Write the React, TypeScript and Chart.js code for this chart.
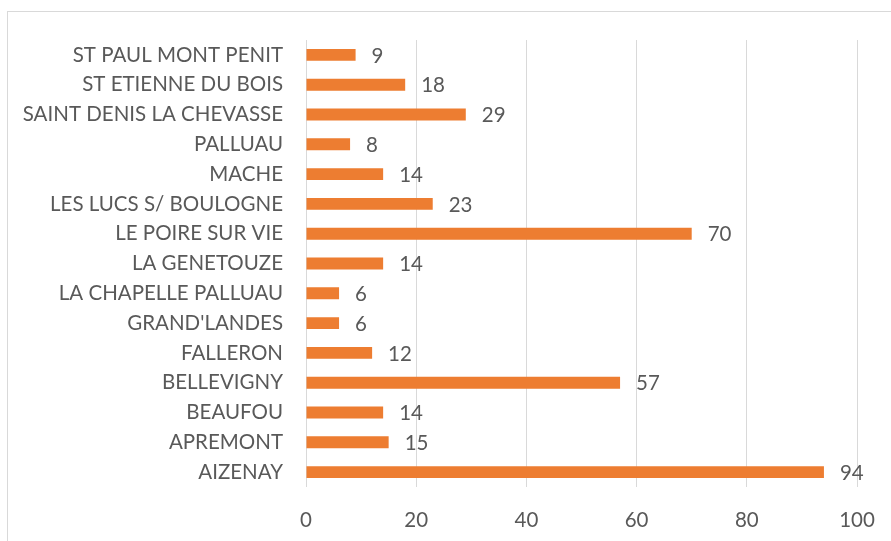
import { useEffect, useRef } from "react";
import { Chart, registerables } from "chart.js";

Chart.register(...registerables);

const communes = [
  "ST PAUL MONT PENIT",
  "ST ETIENNE DU BOIS",
  "SAINT DENIS LA CHEVASSE",
  "PALLUAU",
  "MACHE",
  "LES LUCS S/ BOULOGNE",
  "LE POIRE SUR VIE",
  "LA GENETOUZE",
  "LA CHAPELLE PALLUAU",
  "GRAND'LANDES",
  "FALLERON",
  "BELLEVIGNY",
  "BEAUFOU",
  "APREMONT",
  "AIZENAY",
];

const counts = [9, 18, 29, 8, 14, 23, 70, 14, 6, 6, 12, 57, 14, 15, 94];

const xMin = 0;
const xMax = 100;
const xStep = 20;

const FONT = "Lato";
const TEXT = "#595959";
const GRID = "#D9D9D9";
const BAR = "#ED7D31";

export default function App() {
  const ref = useRef<HTMLCanvasElement>(null);

  useEffect(() => {
    document.body.style.margin = "0";
    const canvas = ref.current;
    if (!canvas) return;

    const framePlugin = {
      id: "frame",
      beforeDraw(chart: any) {
        const ctx = chart.ctx;
        ctx.save();
        ctx.fillStyle = "#FFFFFF";
        ctx.fillRect(0, 0, chart.width, chart.height);
        ctx.strokeStyle = GRID;
        ctx.lineWidth = 1;
        ctx.strokeRect(7.5, 11.5, 2000, 2000);
        ctx.restore();
      },
    };

    const valueLabels = {
      id: "valueLabels",
      afterDatasetsDraw(chart: any) {
        const ctx = chart.ctx;
        const meta = chart.getDatasetMeta(0);
        ctx.save();
        ctx.font = `20.5px ${FONT}`;
        ctx.fillStyle = TEXT;
        ctx.textAlign = "left";
        ctx.textBaseline = "middle";
        meta.data.forEach((el: any, i: number) => {
          ctx.fillText(String(counts[i]), el.x + 16, el.y + 1);
        });
        ctx.restore();
      },
    };

    const chart = new Chart(canvas, {
      type: "bar",
      data: {
        labels: communes,
        datasets: [
          {
            data: counts,
            backgroundColor: BAR,
            borderWidth: 0,
            barPercentage: 0.4,
            categoryPercentage: 1,
          },
        ],
      },
      options: {
        indexAxis: "y",
        responsive: false,
        animation: false,
        layout: { padding: { top: 40, right: 34, left: 0, bottom: 0 } },
        plugins: {
          legend: { display: false },
          tooltip: { enabled: false },
          title: { display: false },
        },
        scales: {
          x: {
            min: xMin,
            max: xMax,
            position: "bottom",
            ticks: {
              stepSize: xStep,
              color: TEXT,
              font: { family: FONT, size: 20.5 },
              padding: 1,
              maxRotation: 0,
            },
            grid: {
              color: GRID,
              drawTicks: true,
              tickLength: 20,
              tickColor: "rgba(0,0,0,0)",
              lineWidth: 1,
            },
            border: { display: false },
            afterFit(scale: any) {
              scale.height = 54;
            },
          },
          y: {
            ticks: {
              color: TEXT,
              font: { family: FONT, size: 20.5 },
              padding: 23,
              autoSkip: false,
            },
            grid: { display: false, drawTicks: false },
            border: { display: false },
            afterFit(scale: any) {
              scale.width = 306;
            },
          },
        },
      },
      plugins: [framePlugin, valueLabels],
    });

    return () => chart.destroy();
  }, []);

  return (
    <canvas
      ref={ref}
      width={891}
      height={541}
      style={{ display: "block", width: 891, height: 541 }}
    />
  );
}
